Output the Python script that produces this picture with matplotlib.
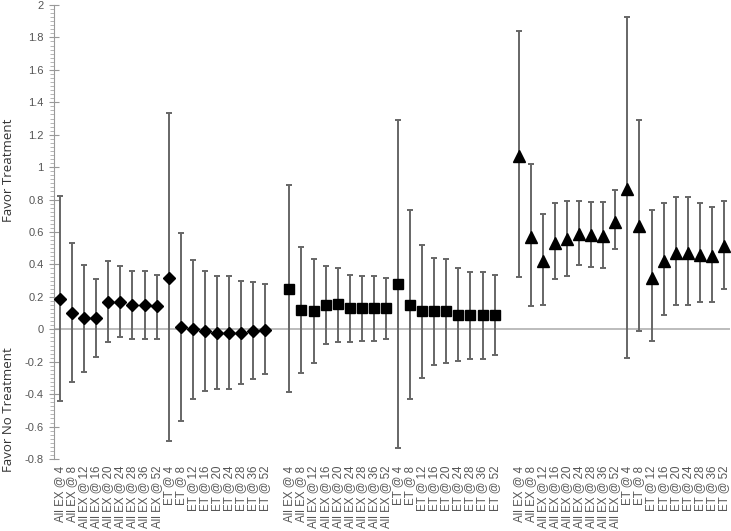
import numpy as np
import matplotlib
matplotlib.use("Agg")
import matplotlib.pyplot as plt
from matplotlib.ticker import MultipleLocator, FuncFormatter

weeks = [4, 8, 12, 16, 20, 24, 28, 36, 52]
group_labels = [f"All EX @ {w}" for w in weeks] + [f"ET @ {w}" for w in weeks]

# Group 1 (diamonds)
g1_mean = [0.187, 0.103, 0.07, 0.07, 0.169, 0.169, 0.148, 0.148, 0.142,
           0.319, 0.012, 0.004, -0.012, -0.021, -0.021, -0.021, -0.010, -0.004]
g1_upper = [0.823, 0.535, 0.397, 0.311, 0.42, 0.391, 0.358, 0.358, 0.337,
            1.331, 0.593, 0.43, 0.358, 0.331, 0.331, 0.30, 0.29, 0.278]
g1_lower = [-0.44, -0.327, -0.261, -0.171, -0.08, -0.049, -0.06, -0.06, -0.06,
            -0.689, -0.566, -0.428, -0.381, -0.366, -0.366, -0.337, -0.307, -0.278]

# Group 2 (squares)
g2_mean = [0.251, 0.119, 0.111, 0.152, 0.156, 0.132, 0.132, 0.132, 0.132,
           0.28, 0.152, 0.111, 0.111, 0.111, 0.09, 0.09, 0.09, 0.09]
g2_upper = [0.887, 0.51, 0.432, 0.391, 0.379, 0.337, 0.331, 0.331, 0.319,
            1.29, 0.733, 0.519, 0.438, 0.432, 0.379, 0.356, 0.356, 0.337]
g2_lower = [-0.387, -0.272, -0.21, -0.09, -0.078, -0.078, -0.07, -0.07, -0.058,
            -0.73, -0.428, -0.30, -0.22, -0.21, -0.198, -0.181, -0.181, -0.16]

# Group 3 (triangles)
g3_mean = [1.07, 0.572, 0.422, 0.531, 0.556, 0.586, 0.582, 0.576, 0.66,
           0.864, 0.634, 0.319, 0.422, 0.473, 0.473, 0.459, 0.453, 0.514]
g3_upper = [1.842, 1.02, 0.714, 0.776, 0.794, 0.794, 0.788, 0.782, 0.856,
            1.924, 1.292, 0.733, 0.776, 0.813, 0.813, 0.776, 0.753, 0.794]
g3_lower = [0.321, 0.146, 0.152, 0.311, 0.331, 0.397, 0.387, 0.381, 0.494,
            -0.178, -0.01, -0.07, 0.09, 0.152, 0.152, 0.171, 0.171, 0.251]

groups = [(g1_mean, g1_upper, g1_lower, "D", 6.5),
          (g2_mean, g2_upper, g2_lower, "s", 7.5),
          (g3_mean, g3_upper, g3_lower, "^", 8.0)]

# categories with one blank slot between groups
categories = group_labels + [""] + group_labels + [""] + group_labels
n_per = len(group_labels)

fig = plt.figure(figsize=(7.31, 5.31), dpi=100)
ax = fig.add_axes([54 / 731, 1 - 459 / 531, (730 - 54) / 731, (459 - 5) / 531])

ax.axhline(0, color="#b0b0b0", lw=1.2, zorder=1)

for gi, (m, up, lo, mk, ms) in enumerate(groups):
    x = np.arange(n_per) + gi * (n_per + 1)
    m = np.array(m)
    yerr = np.vstack([m - np.array(lo), np.array(up) - m])
    ax.errorbar(x, m, yerr=yerr, fmt="none", ecolor="#666666", elinewidth=1.4,
                capsize=2.5, capthick=1.4, zorder=2)
    ax.plot(x, m, linestyle="none", marker=mk, markersize=ms, color="black", zorder=3)

ax.set_xlim(-0.5, len(categories) - 0.5)
ax.set_ylim(-0.8, 2.0)
ax.set_xticks(np.arange(len(categories)))
ax.set_xticklabels(categories, rotation=90, fontsize=8.3, color="#555555",
                   family="Liberation Sans")
ax.tick_params(axis="x", length=0, pad=5)

ax.yaxis.set_major_locator(MultipleLocator(0.2))
ax.yaxis.set_minor_locator(MultipleLocator(0.025))
ax.yaxis.set_major_formatter(FuncFormatter(lambda v, p: f"{round(v, 1):g}"))
ax.tick_params(axis="y", which="major", direction="inout", length=7, width=0.8,
               color="#999999", labelsize=8, labelcolor="#555555", pad=4)
ax.tick_params(axis="y", which="minor", direction="out", length=3, width=0.6,
               color="#aaaaaa")
for lab in ax.get_yticklabels():
    lab.set_family("Liberation Sans")

for s in ["top", "right", "bottom"]:
    ax.spines[s].set_visible(False)
ax.spines["left"].set_color("#999999")
ax.spines["left"].set_linewidth(0.8)

fig.text(9 / 731, 1 - 170 / 531, "Favor Treatment", rotation=90, ha="center",
         va="center", fontsize=9.5, color="#333333", family="Open Sans")
fig.text(9 / 731, 1 - 410 / 531, "Favor No Treatment", rotation=90, ha="center",
         va="center", fontsize=9.5, color="#333333", family="Open Sans")

fig.savefig("out.png", dpi=100)
